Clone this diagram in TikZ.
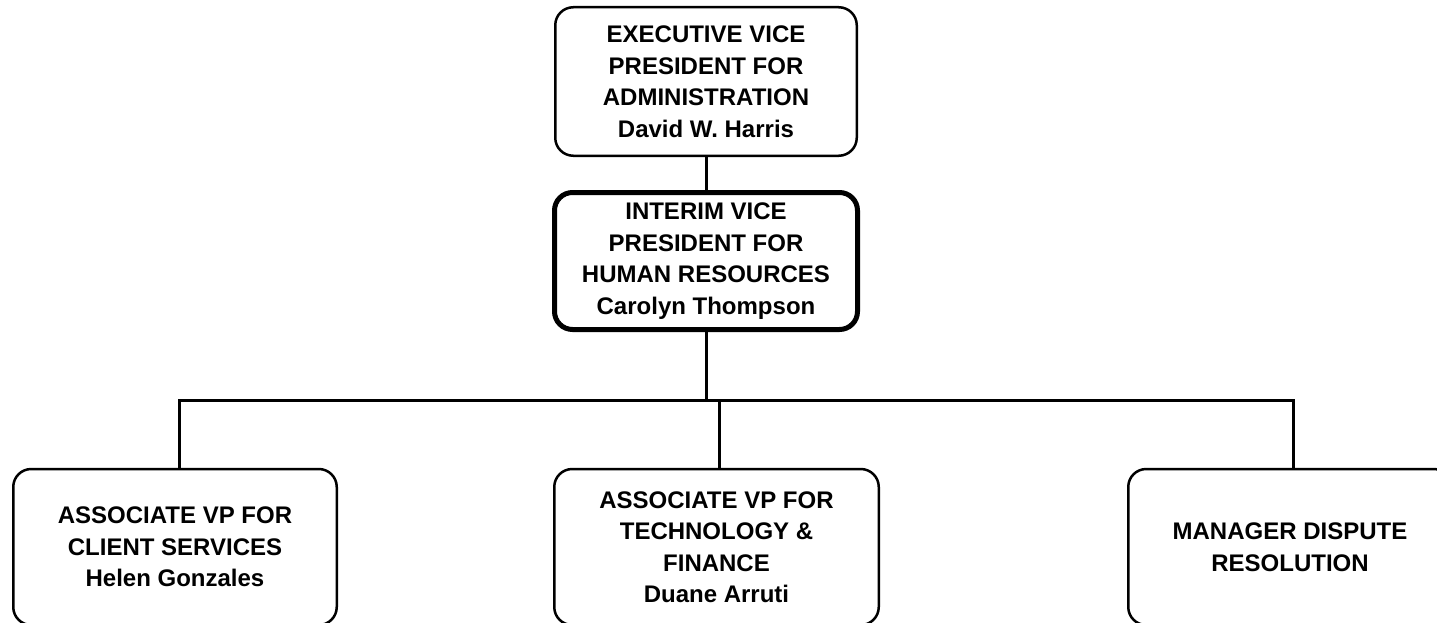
\documentclass[tikz,border=0pt]{standalone}
\usepackage{fontspec}
\setmainfont{Liberation Sans}

\tikzset{
  post/.style={draw, rounded corners=18pt, line width=2.5pt, align=center,
    inner sep=0pt, font=\bfseries\fontsize{24}{31.5}\selectfont},
  chief/.style={post, line width=5pt},
  link/.style={line width=3pt}
}

\begin{document}
\begin{tikzpicture}[x=1pt, y=-1pt]
    \useasboundingbox (0,0) rectangle (1437,623);
    \clip (0,0) rectangle (1437,623);

    % Direction
    \node[post, minimum width=301.5pt, minimum height=148.5pt] (evp) at (706,81.5)
        {EXECUTIVE VICE\\PRESIDENT FOR\\ADMINISTRATION\\David W. Harris};
    \node[chief, minimum width=303pt, minimum height=137pt] (ivp) at (706,261)
        {INTERIM VICE\\PRESIDENT FOR\\HUMAN RESOURCES\\Carolyn Thompson};

    % Postes rattachés
    \node[post, minimum width=323.5pt, minimum height=156pt] (client) at (175,547)
        {ASSOCIATE VP FOR\\CLIENT SERVICES\\Helen Gonzales};
    \node[post, minimum width=324.5pt, minimum height=156pt] (tech) at (716.5,547)
        {ASSOCIATE VP FOR\\TECHNOLOGY \&\\FINANCE\\Duane Arruti};
    \node[post, minimum width=323.5pt, minimum height=156pt] (dispute) at (1290,547)
        {MANAGER DISPUTE\\RESOLUTION};

    % Barre de distribution
    \coordinate (busL) at (179,400);
    \coordinate (busM) at (719,400);
    \coordinate (busR) at (1293,400);

    % Liaisons
    \draw[link] (evp.south) -- (ivp.north);
    \draw[link] (ivp.south) -- (ivp.south |- busL);
    \draw[link] (busL |- client.north) -- (busL) -- (busR) -- (busR |- dispute.north);
    \draw[link] (busM) -- (busM |- tech.north);

\end{tikzpicture}
\end{document}
